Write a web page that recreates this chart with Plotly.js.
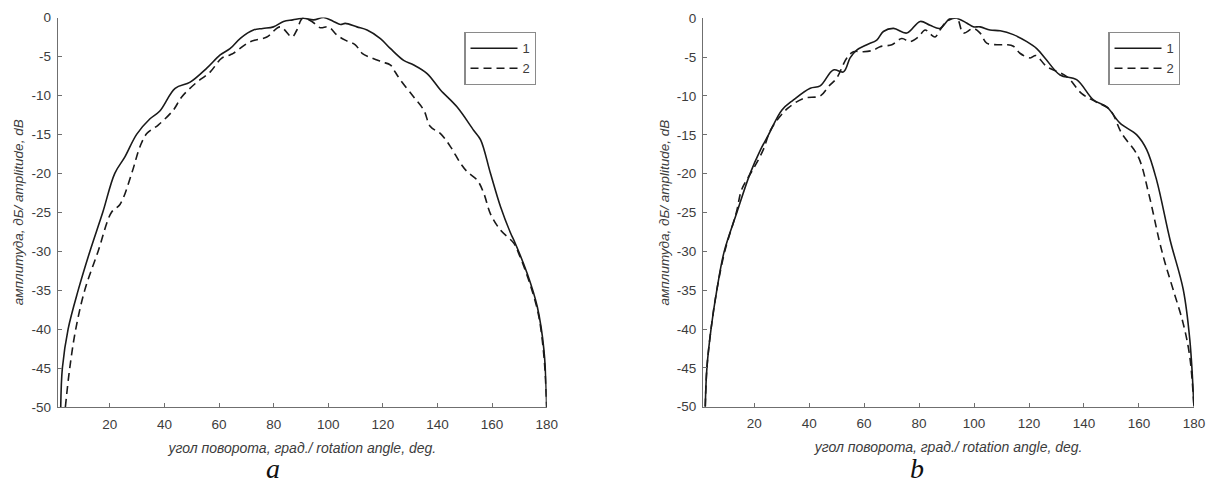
<!DOCTYPE html>
<html>
<head>
<meta charset="utf-8">
<script src="https://cdn.plot.ly/plotly-3.0.1.min.js"></script>
<style>html,body{margin:0;padding:0;background:#fff;}</style>
</head>
<body>
<div id="chart" style="width:1206px;height:487px;"></div>
<script>
// ---- Panel a ----
const a1Angle = [2.0, 2.6, 4.7, 8.4, 12.7, 17.4, 21.8, 25.5, 29.8, 34.7, 38.3, 43.9, 49.4, 55.5, 60.4, 64, 68, 72.6, 76, 79.9, 83.6, 87, 90.9, 94.6, 98.3, 101.9, 104.5, 106.2, 110.5, 114.2, 119.1, 122.8, 127.6, 131.3, 136.2, 141.1, 147.2, 153.3, 155.8, 159.4, 163.1, 166.8, 168, 172.9, 176.6, 179, 180];
const a1Amp = [-50, -45, -40, -35, -30, -25, -20, -17.9, -15, -13, -12, -9.1, -8.3, -6.5, -4.8, -4.0, -2.6, -1.6, -1.4, -1.2, -0.5, -0.3, -0.1, -0.3, 0, -0.5, -0.9, -0.75, -1.2, -1.6, -2.7, -4.0, -5.5, -6.1, -7.2, -9.3, -11.5, -14.5, -15.7, -20, -24.3, -27.7, -28.6, -32.9, -37.2, -42.7, -50];

const a2Angle = [3.7, 5.3, 7.5, 10.8, 15.7, 20.6, 23.7, 28, 31, 33.5, 37.7, 43.2, 46.3, 51.2, 56.7, 61, 64, 65.2, 71.4, 77.5, 82.4, 86.7, 88.5, 90.6, 94, 97, 100.1, 103.2, 106.2, 109.9, 112.4, 116, 119.7, 122.8, 124.5, 126.4, 131.3, 135, 137.4, 141.1, 144.8, 148.4, 150.9, 154.6, 157, 159.4, 163.1, 168, 170, 173.5, 176.9, 179, 180];
const a2Amp = [-50, -45, -40, -35, -30, -25, -24, -20, -16.6, -14.9, -13.8, -11.9, -10.2, -8.5, -7, -5.2, -4.8, -4.6, -3.1, -2.5, -1.2, -2.5, -1.6, -0.1, -0.5, -1.3, -1.2, -2.25, -2.9, -3.5, -4.6, -5.2, -5.7, -6.1, -7, -8, -10.2, -11.9, -14, -14.9, -16.6, -18.7, -19.8, -20.9, -22.6, -25.2, -27.3, -29, -30.5, -33.8, -38, -43.5, -50];

// ---- Panel b ----
const b1Angle = [2.2, 2.8, 4.3, 6.4, 9.1, 13.7, 18.5, 22.2, 25.2, 30.1, 34.3, 40.4, 44, 48.8, 52.5, 54.9, 57.3, 61, 64.6, 67, 70.7, 75.5, 80.4, 84, 87.6, 91.3, 93.7, 97.3, 99.7, 102.2, 105.8, 109.5, 114.3, 119.2, 122.8, 126, 131.3, 137.3, 143.4, 148.3, 153.1, 159.2, 162.8, 166.4, 171.3, 176.1, 178.5, 180];
const b1Amp = [-50, -45, -40, -35, -30, -25, -20, -17, -15, -11.8, -10.5, -9, -8.7, -6.65, -6.9, -5.1, -4.1, -3.4, -2.8, -1.7, -1.3, -1.9, -0.4, -0.9, -1.3, 0, 0, -0.6, -1.1, -1.1, -1.5, -1.6, -2.1, -3.0, -3.9, -5.2, -7.3, -7.9, -10.5, -11.4, -13.5, -15, -16.9, -20.8, -28.5, -34.9, -41.4, -50];

const b2Angle = [2.2, 2.8, 4.3, 6.4, 9.3, 13.5, 15.5, 19.5, 23.2, 25.8, 29, 32.5, 38, 44, 47, 50, 53.7, 56.1, 59.7, 63.4, 65.8, 70.1, 73.7, 76.7, 79.7, 82.2, 84, 85.8, 87.6, 90.1, 93.7, 96.1, 99.7, 102.2, 104.6, 108.3, 111.9, 114.3, 116.7, 120.4, 122.5, 126.4, 133.7, 139.2, 144, 149.5, 153.7, 159.7, 163.5, 167.3, 169.5, 172.5, 176.1, 178.5, 180];
const b2Amp = [-50, -45, -40, -35, -30, -25, -22, -19.5, -17, -14.5, -12.8, -11.5, -10.3, -10, -8.8, -7.7, -5.1, -4.3, -4.3, -4.1, -3.65, -3.4, -2.6, -3.0, -2.4, -1.5, -2.0, -2.4, -1.5, -0.4, 0, -1.9, -1.3, -1.9, -3.2, -3.4, -3.4, -3.6, -4.5, -5.1, -4.8, -6.2, -7.5, -9.7, -10.7, -11.8, -14.8, -17.8, -22.5, -28.5, -31.5, -35, -39.3, -43.6, -50];

const seriesNames = ['1', '2'];
const xTicks = [20, 40, 60, 80, 100, 120, 140, 160, 180];
const yTicks = [0, -5, -10, -15, -20, -25, -30, -35, -40, -45, -50];
const xTitle = 'угол поворота, град./ rotation angle, deg.';
const yTitle = 'амплитуда, дБ/ amplitude, dB';
const panelLabels = ['a', 'b'];

const ink = '#1a1a1a';
const axisGrey = '#6f6f6f';
const textGrey = '#3c3c3c';
const solid = {color: ink, width: 1.6, dash: 'solid', shape: 'spline', smoothing: 1};
const dashed = {color: ink, width: 1.6, dash: '8px,5px', shape: 'spline', smoothing: 1};

const traces = [
  {x: a1Angle, y: a1Amp, name: seriesNames[0], mode: 'lines', line: solid, xaxis: 'x', yaxis: 'y', legend: 'legend'},
  {x: a2Angle, y: a2Amp, name: seriesNames[1], mode: 'lines', line: dashed, xaxis: 'x', yaxis: 'y', legend: 'legend'},
  {x: b1Angle, y: b1Amp, name: seriesNames[0], mode: 'lines', line: solid, xaxis: 'x2', yaxis: 'y2', legend: 'legend2'},
  {x: b2Angle, y: b2Amp, name: seriesNames[1], mode: 'lines', line: dashed, xaxis: 'x2', yaxis: 'y2', legend: 'legend2'}
];

const sans = 'Liberation Sans, Arial, sans-serif';

function xAxis(domain, range, anchor) {
  return {
    domain: domain, range: range, anchor: anchor,
    tickvals: xTicks, ticktext: xTicks.map(String),
    ticks: 'inside', ticklen: 4, tickwidth: 1, tickcolor: axisGrey,
    ticklabelstandoff: 4,
    showline: true, linecolor: axisGrey, linewidth: 1.4,
    showgrid: false, zeroline: false, fixedrange: true,
    tickfont: {family: sans, size: 13.5, color: textGrey},
    title: {text: '<i>' + xTitle + '</i>', standoff: 12,
            font: {family: sans, size: 14, color: textGrey}}
  };
}
function yAxis(domain, anchor) {
  return {
    domain: domain, range: [-50, 0], anchor: anchor,
    tickvals: yTicks, ticktext: yTicks.map(String),
    ticks: 'inside', ticklen: 4, tickwidth: 1, tickcolor: axisGrey,
    ticklabelstandoff: 3,
    showline: true, linecolor: axisGrey, linewidth: 1.4,
    showgrid: false, zeroline: false, fixedrange: true,
    tickfont: {family: sans, size: 13.5, color: textGrey},
    title: {text: '<i>' + yTitle + '</i>', standoff: 4,
            font: {family: sans, size: 13.5, color: textGrey}}
  };
}

const legendStyle = (x) => ({
  x: x, y: 0.934, xanchor: 'left', yanchor: 'top',
  bgcolor: '#ffffff', bordercolor: '#8a8a8a', borderwidth: 1.2,
  font: {family: sans, size: 13, color: textGrey},
  tracegroupgap: 0, itemwidth: 47
});

const layout = {
  width: 1206, height: 487,
  margin: {l: 0, r: 0, t: 0, b: 0},
  paper_bgcolor: '#ffffff', plot_bgcolor: '#ffffff',
  showlegend: true,
  xaxis: xAxis([0.0481, 0.4533], [1, 180], 'y'),
  yaxis: yAxis([0.1643, 0.964], 'x'),
  xaxis2: xAxis([0.5832, 0.9900], [1.5, 180], 'y2'),
  yaxis2: yAxis([0.1649, 0.9624], 'x2'),
  legend: legendStyle(0.385),
  legend2: legendStyle(0.919),
  annotations: [
    {text: '<i>' + panelLabels[0] + '</i>', xref: 'paper', yref: 'paper', x: 0.2264, y: 0.002,
     xanchor: 'center', yanchor: 'bottom', showarrow: false,
     font: {family: 'Liberation Serif, Times New Roman, serif', size: 28, color: '#111'}},
    {text: '<i>' + panelLabels[1] + '</i>', xref: 'paper', yref: 'paper', x: 0.7604, y: 0.002,
     xanchor: 'center', yanchor: 'bottom', showarrow: false,
     font: {family: 'Liberation Serif, Times New Roman, serif', size: 28, color: '#111'}}
  ]
};

Plotly.newPlot('chart', traces, layout, {staticPlot: true, displayModeBar: false});
</script>
</body>
</html>
